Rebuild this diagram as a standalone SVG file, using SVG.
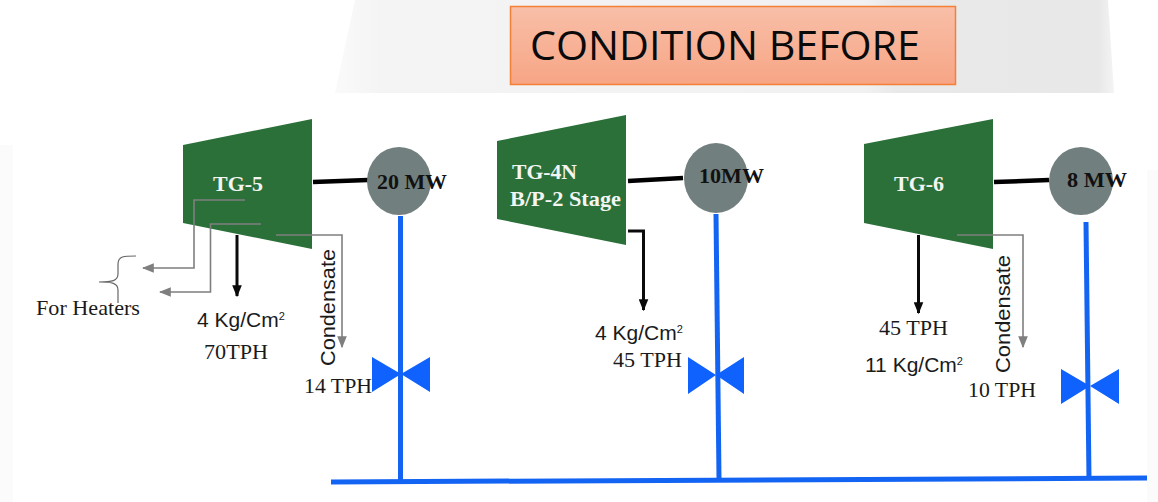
<svg xmlns="http://www.w3.org/2000/svg" width="1158" height="502" viewBox="0 0 1158 502">
<style>
.tb{fill:#2b7039}
.gen{fill:#717f7e}
.vl{fill:#0f62fe}
.pipe{stroke:#1464f4;stroke-width:5;fill:none}
.shaft{stroke:#000;stroke-width:4.5;fill:none}
.bk{stroke:#0a0a0a;stroke-width:3;fill:none}
.gr{stroke:#7f7f7f;stroke-width:1.6;fill:none}
.brace{stroke:#666;stroke-width:1.2;fill:none}
.ser{font-family:"Liberation Serif",serif;fill:#1a1a1a;font-size:22px}
.san{font-family:"Liberation Sans",sans-serif;fill:#1a1a1a;font-size:21px}
.w{font-family:"Liberation Serif",serif;fill:#f2f5f2;font-size:22px;font-weight:bold}
.mw{font-family:"Liberation Serif",serif;fill:#111;font-size:22px;font-weight:bold}
.s{font-size:11px}
</style>
<defs>
<linearGradient id="bg" x1="0" x2="1" y1="0" y2="0">
<stop offset="0" stop-color="#fafafa"/><stop offset="0.06" stop-color="#f4f4f4"/><stop offset="0.68" stop-color="#f1f1f1"/><stop offset="0.72" stop-color="#e9e9e9"/><stop offset="0.98" stop-color="#e8e8e8"/><stop offset="1" stop-color="#f4f4f4"/>
</linearGradient>
<linearGradient id="hd" x1="0" x2="0" y1="0" y2="1">
<stop offset="0" stop-color="#f8bfa8"/><stop offset="1" stop-color="#f7a585"/>
</linearGradient>
<marker id="ab" markerWidth="12" markerHeight="10" refX="9" refY="4" orient="auto" markerUnits="userSpaceOnUse" viewBox="0 0 10 8"><path d="M0 0L10 4L0 8Z" fill="#0a0a0a"/></marker>
<marker id="ag" markerWidth="12" markerHeight="10" refX="9" refY="4" orient="auto" markerUnits="userSpaceOnUse" viewBox="0 0 10 8"><path d="M0 0L10 4L0 8Z" fill="#7f7f7f"/></marker>
</defs>
<rect width="1158" height="502" fill="#fff"/>
<path d="M335 93L355 0H1108L1114 93Z" fill="url(#bg)"/>
<rect x="0" y="145" width="13" height="357" fill="#fbfbfb"/>
<rect x="1147" y="170" width="11" height="332" fill="#fbfbfb"/>

<g id="title">
<rect x="510.500" y="6.500" width="445" height="78" fill="url(#hd)" stroke="#f47f36" stroke-width="1.500"/>
<text x="530" y="60" font-family="'Open Sans','Noto Sans',sans-serif" font-size="39.500" fill="#0a0a0a" textLength="390" lengthAdjust="spacingAndGlyphs">CONDITION BEFORE</text>
</g>

<g id="tg5"><path class="tb" d="M183 145L312 119V249L183 223Z"/><text class="w" x="213" y="191" textLength="50" lengthAdjust="spacingAndGlyphs">TG-5</text></g>
<g id="tg4n"><path class="tb" d="M497 141L626 115V245L497 219Z"/><text class="w" x="512" y="179" textLength="65" lengthAdjust="spacingAndGlyphs">TG-4N</text><text class="w" x="510" y="206" textLength="111" lengthAdjust="spacingAndGlyphs">B/P-2 Stage</text></g>
<g id="tg6"><path class="tb" d="M864 144L993 119V249L864 223Z"/><text class="w" x="894" y="191" textLength="50" lengthAdjust="spacingAndGlyphs">TG-6</text></g>

<g id="connectors">
<path class="pipe" d="M400.500 216V482"/>
<path class="pipe" d="M716 214L719 478"/>
<path class="pipe" d="M1086 222L1089 480"/>
<path class="pipe" d="M331 482L1147 478"/>
<path class="shaft" d="M313 182L368 180"/>
<path class="shaft" d="M628 181L683 178"/>
<path class="shaft" d="M994 182L1049 180"/>
<path class="bk" d="M237 235V296" marker-end="url(#ab)"/>
<path class="bk" stroke-width="2.500" d="M628 231H643.500V310" marker-end="url(#ab)"/>
<path class="bk" d="M918.500 235V313" marker-end="url(#ab)"/>
<path class="gr" d="M245 200H194V268H143" marker-end="url(#ag)"/>
<path class="gr" d="M261 224H210.500V292H160" marker-end="url(#ag)"/>
<path class="gr" d="M276 235H342V347" marker-end="url(#ag)"/>
<path class="gr" d="M957 235H1023V347" marker-end="url(#ag)"/>
<path class="brace" d="M136 256C124 256 118 256 118 264V274C118 281 112 282 99 282C112 282 118 283 118 290V303"/>
</g>

<g id="gen20"><ellipse class="gen" cx="399" cy="181" rx="32" ry="34"/><text class="mw" x="377" y="189" textLength="70" lengthAdjust="spacingAndGlyphs">20 MW</text></g>
<g id="gen10"><ellipse class="gen" cx="716" cy="178" rx="32" ry="35"/><text class="mw" x="699" y="183" textLength="65" lengthAdjust="spacingAndGlyphs">10MW</text></g>
<g id="gen8"><ellipse class="gen" cx="1081" cy="181" rx="32" ry="34"/><text class="mw" x="1067" y="187" textLength="60" lengthAdjust="spacingAndGlyphs">8 MW</text></g>

<g id="valve1"><path class="vl" d="M372 357L401 374L430 357V392L401 374L372 392Z"/></g>
<g id="valve2"><path class="vl" d="M688 357L716 375L744 357V394L716 375L688 394Z"/></g>
<g id="valve3"><path class="vl" d="M1061 369L1090 386L1119 369V404L1090 386L1061 404Z"/></g>

<g id="labels">
<text class="ser" x="36" y="315" textLength="104" lengthAdjust="spacingAndGlyphs">For Heaters</text>
<text class="san" x="197" y="327">4 Kg/Cm<tspan class="s" dy="-7">2</tspan></text>
<text class="ser" x="204" y="359" textLength="64" lengthAdjust="spacingAndGlyphs">70TPH</text>
<text class="san" transform="translate(335,366) rotate(-90)" textLength="117" lengthAdjust="spacingAndGlyphs">Condensate</text>
<text class="ser" x="304" y="393" textLength="68" lengthAdjust="spacingAndGlyphs">14 TPH</text>
<text class="san" x="595" y="340">4 Kg/Cm<tspan class="s" dy="-7">2</tspan></text>
<text class="ser" x="613" y="367" textLength="69" lengthAdjust="spacingAndGlyphs">45 TPH</text>
<text class="ser" x="879" y="335" textLength="69" lengthAdjust="spacingAndGlyphs">45 TPH</text>
<text class="san" x="865" y="372">11 Kg/Cm<tspan class="s" dy="-7">2</tspan></text>
<text class="san" transform="translate(1010,373) rotate(-90)" textLength="118" lengthAdjust="spacingAndGlyphs">Condensate</text>
<text class="ser" x="968" y="397" textLength="68" lengthAdjust="spacingAndGlyphs">10 TPH</text>
</g>
</svg>
